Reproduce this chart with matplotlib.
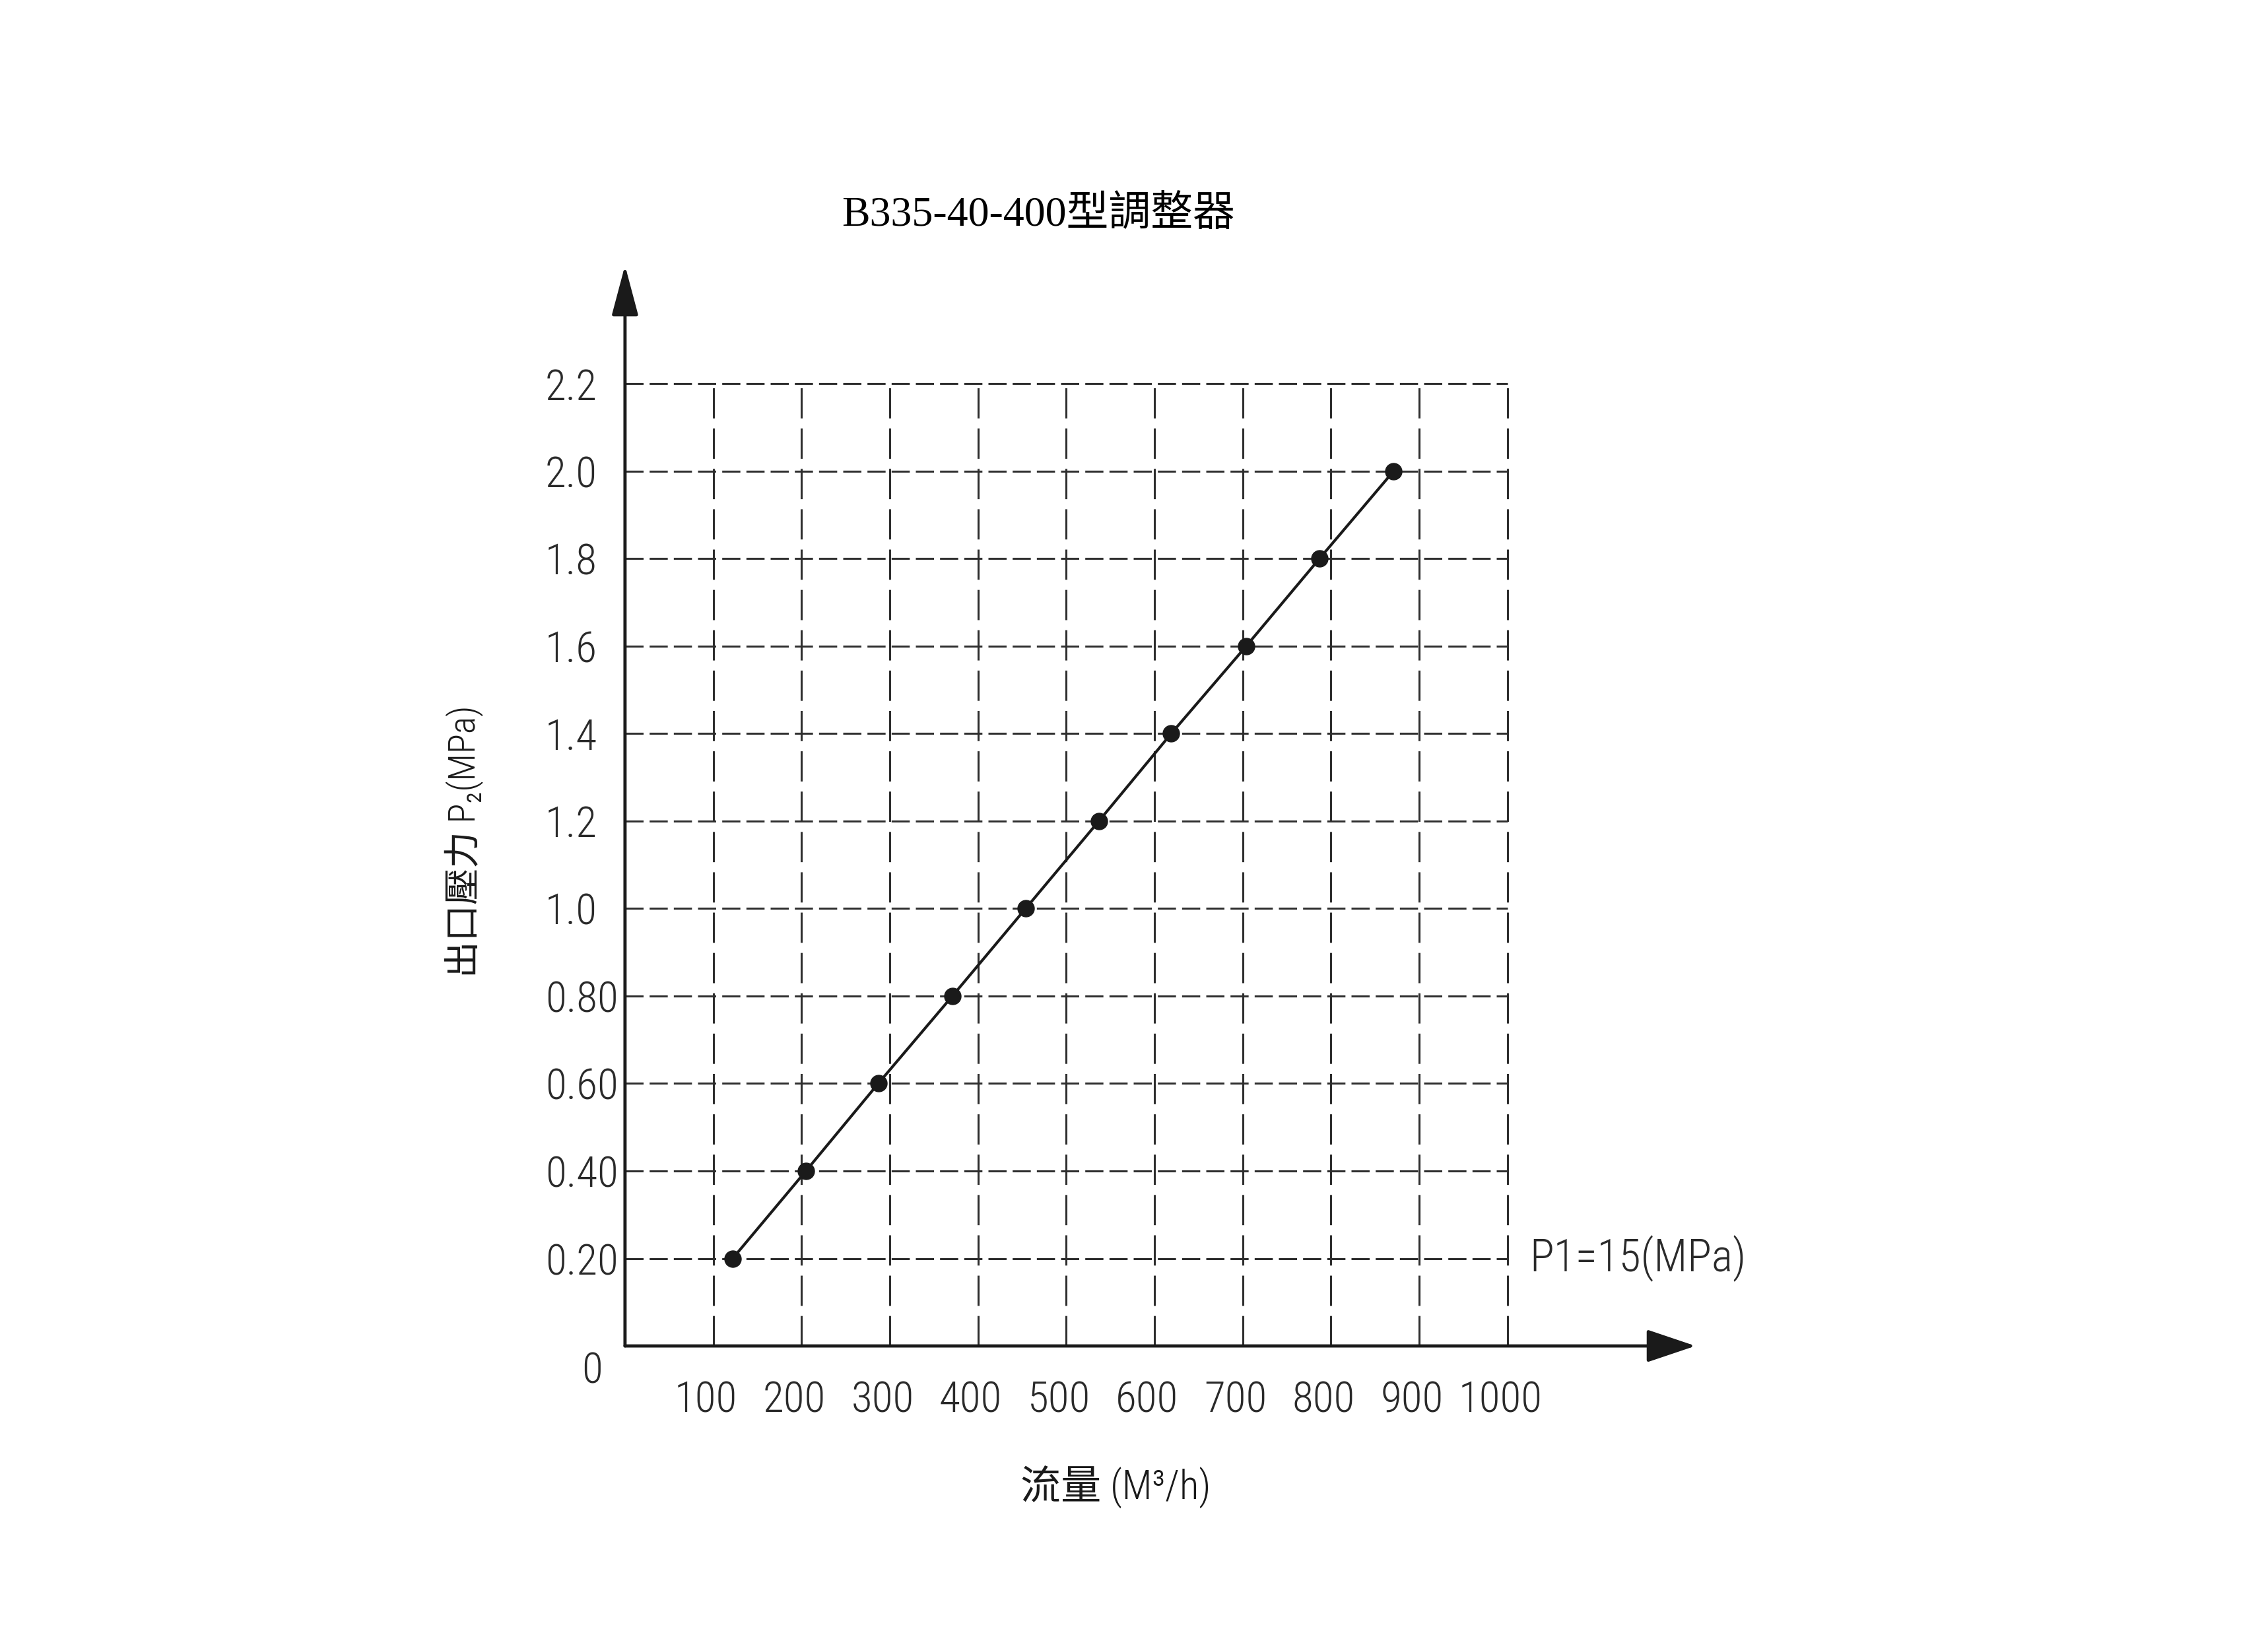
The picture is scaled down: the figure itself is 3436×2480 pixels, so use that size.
import matplotlib
matplotlib.use("Agg")
import matplotlib.pyplot as plt
import matplotlib.transforms as mtransforms
from matplotlib import font_manager

# data (flow in M3/h, outlet pressure P2 in MPa)
flow = [122, 205, 287, 371, 454, 537, 619, 704, 787, 871]
p2 = [0.2, 0.4, 0.6, 0.8, 1.0, 1.2, 1.4, 1.6, 1.8, 2.0]

x_ticks = [100, 200, 300, 400, 500, 600, 700, 800, 900, 1000]
x_labels = ["100", "200", "300", "400", "500", "600", "700", "800", "900", "1000"]
y_ticks = [0.2, 0.4, 0.6, 0.8, 1.0, 1.2, 1.4, 1.6, 1.8, 2.0, 2.2]
y_labels = ["0.20", "0.40", "0.60", "0.80", "1.0", "1.2", "1.4", "1.6", "1.8", "2.0", "2.2"]

title = "B335-40-400型調整器"
ylabel = "出口壓力 P₂(MPa)"
xlabel = "流量 (M³/h)"
note = "P1=15(MPa)"

# the drawing uses a narrow sans; take one if installed, otherwise Liberation Sans a bit smaller
fonts = font_manager.fontManager.ttflist
names = {f.name for f in fonts}
stretch = "normal"
if "Liberation Sans Narrow" in names:
    NARROW, NUM_SIZE = "Liberation Sans Narrow", 48
elif "Roboto Condensed" in names:
    NARROW, NUM_SIZE = "Roboto Condensed", 47
elif any(f.name == "DejaVu Sans" and f.stretch == "condensed" for f in fonts):
    NARROW, NUM_SIZE, stretch = "DejaVu Sans", 42, "condensed"
else:
    NARROW, NUM_SIZE = "Liberation Sans", 40
SANS = [NARROW, "Noto Sans CJK TC", "DejaVu Sans"]
SERIF = ["Liberation Serif", "Noto Sans CJK TC", "DejaVu Sans"]
WEIGHT = "light"

INK = "#1a1a1a"
GRID = "#2e2e2e"
TXT = "#2a2a2a"

fig = plt.figure(figsize=(34.37, 24.80), dpi=100)
ax = fig.add_axes([0.2755, 0.1778, 0.389, 0.5879])
ax.set_xlim(0, 1000)
ax.set_ylim(0, 2.2)
for s in ax.spines.values():
    s.set_visible(False)

# dashed grid
ax.hlines(y_ticks, 0, 1000, colors=GRID, linewidth=2.2, linestyles=[(0, (9, 3))], clip_on=False)
ax.vlines(x_ticks, 0, 2.2, colors=GRID, linewidth=2.2, linestyles=[(0, (15, 5))], clip_on=False)

# axes with arrow heads
ax.annotate("", xy=(0, 2.47), xytext=(0, 0), annotation_clip=False,
            arrowprops=dict(arrowstyle="-|>,head_length=4.7,head_width=1.25", lw=3.5,
                            color=INK, shrinkA=0, shrinkB=0, mutation_scale=10))
ax.annotate("", xy=(1213, 0), xytext=(0, 0), annotation_clip=False,
            arrowprops=dict(arrowstyle="-|>,head_length=4.6,head_width=1.55", lw=3.5,
                            color=INK, shrinkA=0, shrinkB=0, mutation_scale=10))

# the curve
ax.plot(flow, p2, "-o", color=INK, lw=3, ms=18, clip_on=False, zorder=5)

# ticks
ax.set_yticks(y_ticks, labels=y_labels)
ax.set_xticks(x_ticks, labels=x_labels)
ax.tick_params(length=0, labelsize=NUM_SIZE, labelcolor=TXT)
ax.tick_params(axis="y", pad=87)
ax.tick_params(axis="x", pad=37)
shift = mtransforms.ScaledTranslation(-8 / 72, 0, fig.dpi_scale_trans)
for lab in ax.get_yticklabels():
    lab.set_horizontalalignment("left")
    lab.set_family(SANS)
    lab.set_fontstretch(stretch)
    lab.set_fontweight(WEIGHT)
for lab in ax.get_xticklabels():
    lab.set_family(SANS)
    lab.set_fontstretch(stretch)
    lab.set_fontweight(WEIGHT)
    lab.set_transform(lab.get_transform() + shift)
ax.text(-37, -0.058, "0", ha="center", va="center", fontsize=NUM_SIZE, color=TXT,
        family=SANS, fontstretch=stretch, fontweight=WEIGHT)

# labels
ax.set_ylabel(ylabel, fontsize=40, family=SANS, fontstretch=stretch, fontweight=WEIGHT, color=INK)
ax.yaxis.set_label_coords(-0.16, 0.524)
ax.set_xlabel(xlabel, fontsize=44, family=SANS, fontstretch=stretch, fontweight=WEIGHT, color=INK)
ax.xaxis.set_label_coords(0.556, -0.125)

ax.text(1025, 0.2, note, ha="left", va="center", fontsize=NUM_SIZE + 2, color=TXT,
        family=SANS, fontstretch=stretch, fontweight=WEIGHT)

fig.text(0.4577, 0.8685, title, ha="center", va="center", fontsize=46, color="black", family=SERIF)

fig.savefig("out.png", dpi=100)
